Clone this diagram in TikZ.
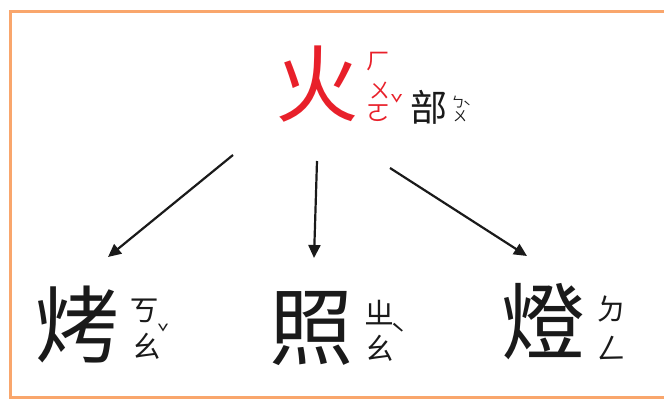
\documentclass[tikz,border=0pt]{standalone}
\usepackage{fontspec}
\newfontfamily\cjk{Noto Sans CJK TC}
\usetikzlibrary{arrows.meta}
\definecolor{hred}{HTML}{E8202A}
\definecolor{framec}{HTML}{F9A66C}
\definecolor{ink}{HTML}{1A1A1A}
\begin{document}
\begin{tikzpicture}[x=1pt,y=-1pt,
  big/.style={font=\cjk\fontsize{84}{84}\selectfont, inner sep=0, text height=73.92pt, text depth=10.08pt, text=ink},
  mid/.style={font=\cjk\fontsize{37}{37}\selectfont, inner sep=0, text=ink},
  zy/.style={font=\cjk\fontsize{30}{30}\selectfont, inner sep=0, anchor=west, text=ink},
  zyt/.style={font=\cjk\fontsize{24}{24}\selectfont, inner sep=0, anchor=west, text=hred},
  zys/.style={font=\cjk\fontsize{14}{14}\selectfont, inner sep=0, anchor=west, text=ink},
  tone/.style={inner sep=0, text=ink},
  arr/.style={line width=2.2pt, draw=ink, -{Triangle[length=13pt,width=12pt]}}]
\useasboundingbox (0,0) rectangle (664,399);
\draw[framec, line width=3pt] (10,11) rectangle (690,397);
% top
\node[big, text=hred] (huo) at (317,84) {火};
\node[zyt] (huo1) at (366,62) {ㄏ};
\node[zyt, font=\cjk\fontsize{21}{21}\selectfont] (huo2) at (369,91) {ㄨ};
\node[zyt] (huo3) at (366,113) {ㄛ};
\node[tone, text=hred, font=\cjk\fontsize{22}{22}\selectfont] (huot) at (397.5,103) {ˇ};
\node[mid] (bu) at (428.5,107.5) {部};
\node[zys] (bu1) at (451,102.5) {ㄅ};
\node[zys] (bu2) at (453,116) {ㄨ};
\node[tone, font=\cjk\fontsize{14}{14}\selectfont] (but) at (467,106.5) {ˋ};
% bottom
\node[big] (kao) at (77,325) {烤};
\node[zy] (kao1) at (129,310.5) {ㄎ};
\node[zy] (kao2) at (131,346.5) {ㄠ};
\node[tone, font=\cjk\fontsize{20}{20}\selectfont] (kaot) at (163.5,332) {ˇ};
\node[big] (zhao) at (311,327) {照};
\node[zy] (zhao1) at (364,312.5) {ㄓ};
\node[zy] (zhao2) at (364,348) {ㄠ};
\node[tone, font=\cjk\fontsize{26}{26}\selectfont] (zhaot) at (398,333.5) {ˋ};
\node[big] (deng) at (543,322) {燈};
\node[zy] (deng1) at (596,308.5) {ㄉ};
\node[zy] (deng2) at (596,347.5) {ㄥ};
% arrows
\coordinate (s1) at (233,155);
\coordinate (e1) at (108,257);
\coordinate (s2) at (317,161);
\coordinate (e2) at (314,258);
\coordinate (s3) at (390,168);
\coordinate (e3) at (527,256);
\draw[arr] (s1) -- (e1);
\draw[arr] (s2) -- (e2);
\draw[arr] (s3) -- (e3);
\end{tikzpicture}
\end{document}
